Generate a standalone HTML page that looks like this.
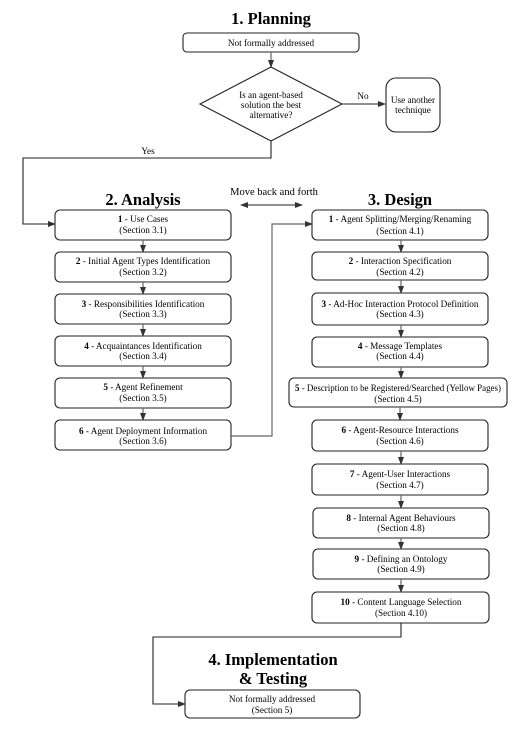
<!DOCTYPE html>
<html><head><style>
body{margin:0;background:#fff}
svg text{font-family:"Liberation Serif",serif;fill:#000}
.t{font-size:9.2px}
.h{font-size:16.5px;font-weight:bold}
rect{fill:#fff;stroke:#222;stroke-width:1.1}
.l{stroke:#222;stroke-width:1.1;fill:none}
.g{stroke:#666;stroke-width:1.2;fill:none}
</style></head><body>
<svg width="524" height="726" viewBox="0 0 524 726">
<defs><marker id="a" markerWidth="8" markerHeight="6" refX="7" refY="3" orient="auto" markerUnits="userSpaceOnUse"><path d="M0,0 L8,3 L0,6 z" fill="#333"/></marker>
<marker id="b" markerWidth="8" markerHeight="6" refX="1" refY="3" orient="auto" markerUnits="userSpaceOnUse"><path d="M8,0 L0,3 L8,6 z" fill="#333"/></marker></defs>

<text class="h" x="271" y="24" text-anchor="middle">1. Planning</text>
<rect x="183" y="33" width="176" height="19" rx="4"/>
<text class="t" x="271" y="46" text-anchor="middle">Not formally addressed</text>
<line class="g" x1="271" y1="52" x2="271" y2="67" marker-end="url(#a)"/>
<polygon points="271,67 342,104 271,141 200,104" fill="#fff" stroke="#222" stroke-width="1.1"/>
<text class="t" x="271" y="98" text-anchor="middle">Is an agent-based</text>
<text class="t" x="271" y="108" text-anchor="middle">solution the best</text>
<text class="t" x="271" y="118" text-anchor="middle">alternative?</text>
<line class="l" x1="342" y1="104" x2="385" y2="104" marker-end="url(#a)"/>
<text class="t" x="363" y="99" text-anchor="middle">No</text>
<rect x="386" y="78" width="54" height="54" rx="10"/>
<text class="t" x="413" y="103" text-anchor="middle">Use another</text>
<text class="t" x="413" y="113" text-anchor="middle">technique</text>
<text class="t" x="148" y="154" text-anchor="middle">Yes</text>
<polyline class="l" points="271,141 271,158 23,158 23,224 55,224" marker-end="url(#a)"/>

<text class="h" x="143" y="205" text-anchor="middle">2. Analysis</text>
<text class="t" x="274" y="195" text-anchor="middle" style="font-size:10.5px">Move back and forth</text>
<line class="l" x1="241" y1="205" x2="302" y2="205" marker-end="url(#a)" marker-start="url(#b)"/>
<text class="h" x="400" y="205" text-anchor="middle">3. Design</text>

<g>
<rect x="55" y="210" width="176" height="30" rx="5"/>
<text class="t" x="143" y="222" text-anchor="middle"><tspan font-weight="bold">1</tspan> - Use Cases</text><text class="t" x="143" y="233" text-anchor="middle">(Section 3.1)</text>
<rect x="55" y="252" width="176" height="30" rx="5"/>
<text class="t" x="143" y="264" text-anchor="middle"><tspan font-weight="bold">2</tspan> - Initial Agent Types Identification</text><text class="t" x="143" y="275" text-anchor="middle">(Section 3.2)</text>
<rect x="55" y="294" width="176" height="30" rx="5"/>
<text class="t" x="143" y="307" text-anchor="middle"><tspan font-weight="bold">3</tspan> - Responsibilities Identification</text><text class="t" x="143" y="317" text-anchor="middle">(Section 3.3)</text>
<rect x="55" y="336" width="176" height="30" rx="5"/>
<text class="t" x="143" y="349" text-anchor="middle"><tspan font-weight="bold">4</tspan> - Acquaintances Identification</text><text class="t" x="143" y="359" text-anchor="middle">(Section 3.4)</text>
<rect x="55" y="378" width="176" height="30" rx="5"/>
<text class="t" x="143" y="390" text-anchor="middle"><tspan font-weight="bold">5</tspan> - Agent Refinement</text><text class="t" x="143" y="401" text-anchor="middle">(Section 3.5)</text>
<rect x="55" y="420" width="176" height="30" rx="5"/>
<text class="t" x="143" y="434" text-anchor="middle"><tspan font-weight="bold">6</tspan> - Agent Deployment Information</text><text class="t" x="143" y="444" text-anchor="middle">(Section 3.6)</text>
<line class="g" x1="143" y1="240" x2="143" y2="252" marker-end="url(#a)"/>
<line class="g" x1="143" y1="282" x2="143" y2="294" marker-end="url(#a)"/>
<line class="g" x1="143" y1="324" x2="143" y2="336" marker-end="url(#a)"/>
<line class="g" x1="143" y1="366" x2="143" y2="378" marker-end="url(#a)"/>
<line class="g" x1="143" y1="408" x2="143" y2="420" marker-end="url(#a)"/>
</g>
<polyline class="g" points="231,436 272,436 272,224 312,224" marker-end="url(#a)"/>

<g>
<rect x="312" y="210" width="176" height="30" rx="5"/>
<text class="t" x="400" y="222" text-anchor="middle"><tspan font-weight="bold">1</tspan> - Agent Splitting/Merging/Renaming</text><text class="t" x="400" y="234" text-anchor="middle">(Section 4.1)</text>
<rect x="312" y="252" width="176" height="28" rx="5"/>
<text class="t" x="400" y="264" text-anchor="middle"><tspan font-weight="bold">2</tspan> - Interaction Specification</text><text class="t" x="400" y="275" text-anchor="middle">(Section 4.2)</text>
<rect x="312" y="293" width="176" height="32" rx="5"/>
<text class="t" x="400" y="307" text-anchor="middle"><tspan font-weight="bold">3</tspan> - Ad-Hoc Interaction Protocol Definition</text><text class="t" x="400" y="317" text-anchor="middle">(Section 4.3)</text>
<rect x="312" y="337" width="176" height="30" rx="5"/>
<text class="t" x="400" y="349" text-anchor="middle"><tspan font-weight="bold">4</tspan> - Message Templates</text><text class="t" x="400" y="359" text-anchor="middle">(Section 4.4)</text>
<rect x="289" y="378" width="218" height="29" rx="5"/>
<text class="t" x="295" y="391" textLength="206" lengthAdjust="spacingAndGlyphs"><tspan font-weight="bold">5</tspan> - Description to be Registered/Searched (Yellow Pages)</text><text class="t" x="398" y="402" text-anchor="middle">(Section 4.5)</text>
<rect x="312" y="420" width="176" height="31" rx="5"/>
<text class="t" x="400" y="433" text-anchor="middle"><tspan font-weight="bold">6</tspan> - Agent-Resource Interactions</text><text class="t" x="400" y="444" text-anchor="middle">(Section 4.6)</text>
<rect x="312" y="464" width="176" height="31" rx="5"/>
<text class="t" x="400" y="477" text-anchor="middle"><tspan font-weight="bold">7</tspan> - Agent-User Interactions</text><text class="t" x="400" y="488" text-anchor="middle">(Section 4.7)</text>
<rect x="313" y="508" width="176" height="30" rx="5"/>
<text class="t" x="401" y="521" text-anchor="middle"><tspan font-weight="bold">8</tspan> - Internal Agent Behaviours</text><text class="t" x="401" y="531" text-anchor="middle">(Section 4.8)</text>
<rect x="313" y="549" width="176" height="30" rx="5"/>
<text class="t" x="401" y="562" text-anchor="middle"><tspan font-weight="bold">9</tspan> - Defining an Ontology</text><text class="t" x="401" y="572" text-anchor="middle">(Section 4.9)</text>
<rect x="312" y="592" width="177" height="31" rx="5"/>
<text class="t" x="401" y="605" text-anchor="middle"><tspan font-weight="bold">10</tspan> - Content Language Selection</text><text class="t" x="401" y="616" text-anchor="middle">(Section 4.10)</text>
<line class="g" x1="401" y1="240" x2="401" y2="252" marker-end="url(#a)"/>
<line class="g" x1="401" y1="280" x2="401" y2="293" marker-end="url(#a)"/>
<line class="g" x1="401" y1="325" x2="401" y2="337" marker-end="url(#a)"/>
<line class="g" x1="401" y1="367" x2="401" y2="378" marker-end="url(#a)"/>
<line class="g" x1="400" y1="407" x2="400" y2="420" marker-end="url(#a)"/>
<line class="g" x1="401" y1="451" x2="401" y2="464" marker-end="url(#a)"/>
<line class="g" x1="401" y1="495" x2="401" y2="508" marker-end="url(#a)"/>
<line class="g" x1="401" y1="538" x2="401" y2="549" marker-end="url(#a)"/>
<line class="g" x1="401" y1="579" x2="401" y2="592" marker-end="url(#a)"/>
</g>

<polyline class="l" points="401,623 401,637 153,637 153,704 185,704" marker-end="url(#a)"/>
<text class="h" x="273" y="665" text-anchor="middle">4. Implementation</text>
<text class="h" x="273" y="684" text-anchor="middle">&amp; Testing</text>
<rect x="185" y="690" width="175" height="28" rx="5"/>
<text class="t" x="272" y="702" text-anchor="middle">Not formally addressed</text>
<text class="t" x="272" y="713" text-anchor="middle">(Section 5)</text>
</svg>
</body></html>
